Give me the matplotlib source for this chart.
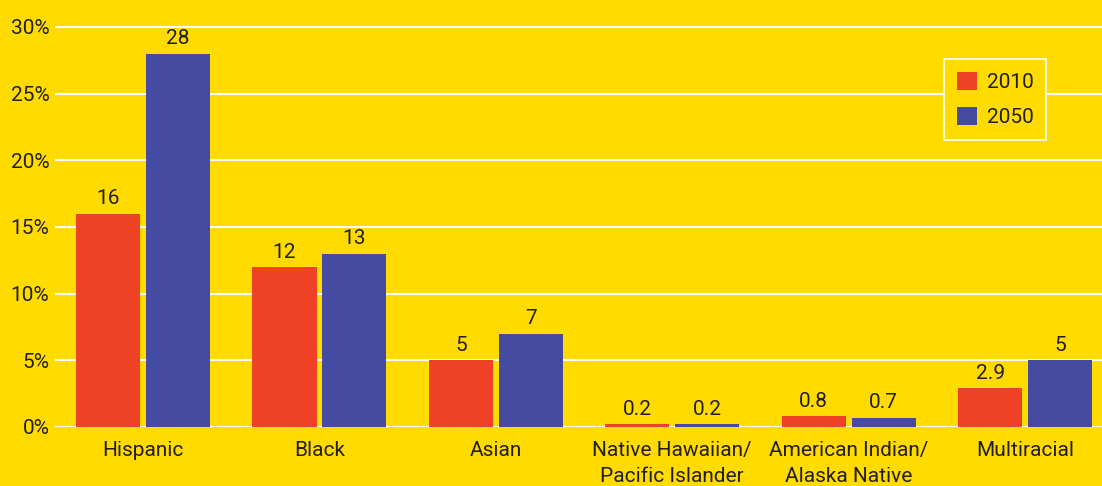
import numpy as np
import matplotlib.pyplot as plt

categories = ['Hispanic', 'Black', 'Asian', 'Native Hawaiian/\nPacific Islander',
              'American Indian/\nAlaska Native', 'Multiracial']
vals_2010 = [16, 12, 5, 0.2, 0.8, 2.9]
vals_2050 = [28, 13, 7, 0.2, 0.7, 5]
labels_2010 = ['16', '12', '5', '0.2', '0.8', '2.9']
labels_2050 = ['28', '13', '7', '0.2', '0.7', '5']
yticks = [0, 5, 10, 15, 20, 25, 30]

plt.rcParams['font.family'] = ['Roboto', 'DejaVu Sans']
yellow = '#FFDB00'
red = '#EF4126'
blue = '#454BA0'
ink = '#231F20'
fs = 15

fig = plt.figure(figsize=(11.02, 4.86), dpi=100, facecolor=yellow)
ax = fig.add_axes([0.0499, 0.1214, 0.9501, 0.8642], facecolor=yellow)

x = np.arange(len(categories))
w = 0.363
off = 0.198
b1 = ax.bar(x - off, vals_2010, w, color=red, label='2010', zorder=3)
b2 = ax.bar(x + off, vals_2050, w, color=blue, label='2050', zorder=3)

for bars, labs in ((b1, labels_2010), (b2, labels_2050)):
    for b, t in zip(bars, labs):
        ax.text(b.get_x() + b.get_width() / 2, b.get_height() + 0.4, t,
                ha='center', va='bottom', fontsize=fs, color=ink)

ax.set_xlim(-0.499, 5.436)
ax.set_ylim(0, 31.5)
ax.set_yticks(yticks)
ax.set_yticklabels([f'{v}%' for v in yticks], fontsize=fs, color=ink)
ax.set_xticks(x)
ax.set_xticklabels(categories, fontsize=fs, color=ink, linespacing=1.45)
ax.tick_params(length=0, axis='y', pad=4)
ax.tick_params(length=0, axis='x', pad=10)
ax.grid(axis='y', color='white', linewidth=1.5, zorder=1)
for s in ax.spines.values():
    s.set_visible(False)

leg = ax.legend(loc='upper right', bbox_to_anchor=(0.9465, 0.876), borderaxespad=0,
                fontsize=fs, frameon=True, fancybox=False, edgecolor='white',
                facecolor=yellow, framealpha=1, handlelength=1.0, handleheight=1.0,
                labelspacing=0.7, borderpad=0.6, handletextpad=0.45)
leg.get_frame().set_linewidth(1.2)
for t in leg.get_texts():
    t.set_color(ink)

fig.savefig('out.png', dpi=100, facecolor=yellow)
